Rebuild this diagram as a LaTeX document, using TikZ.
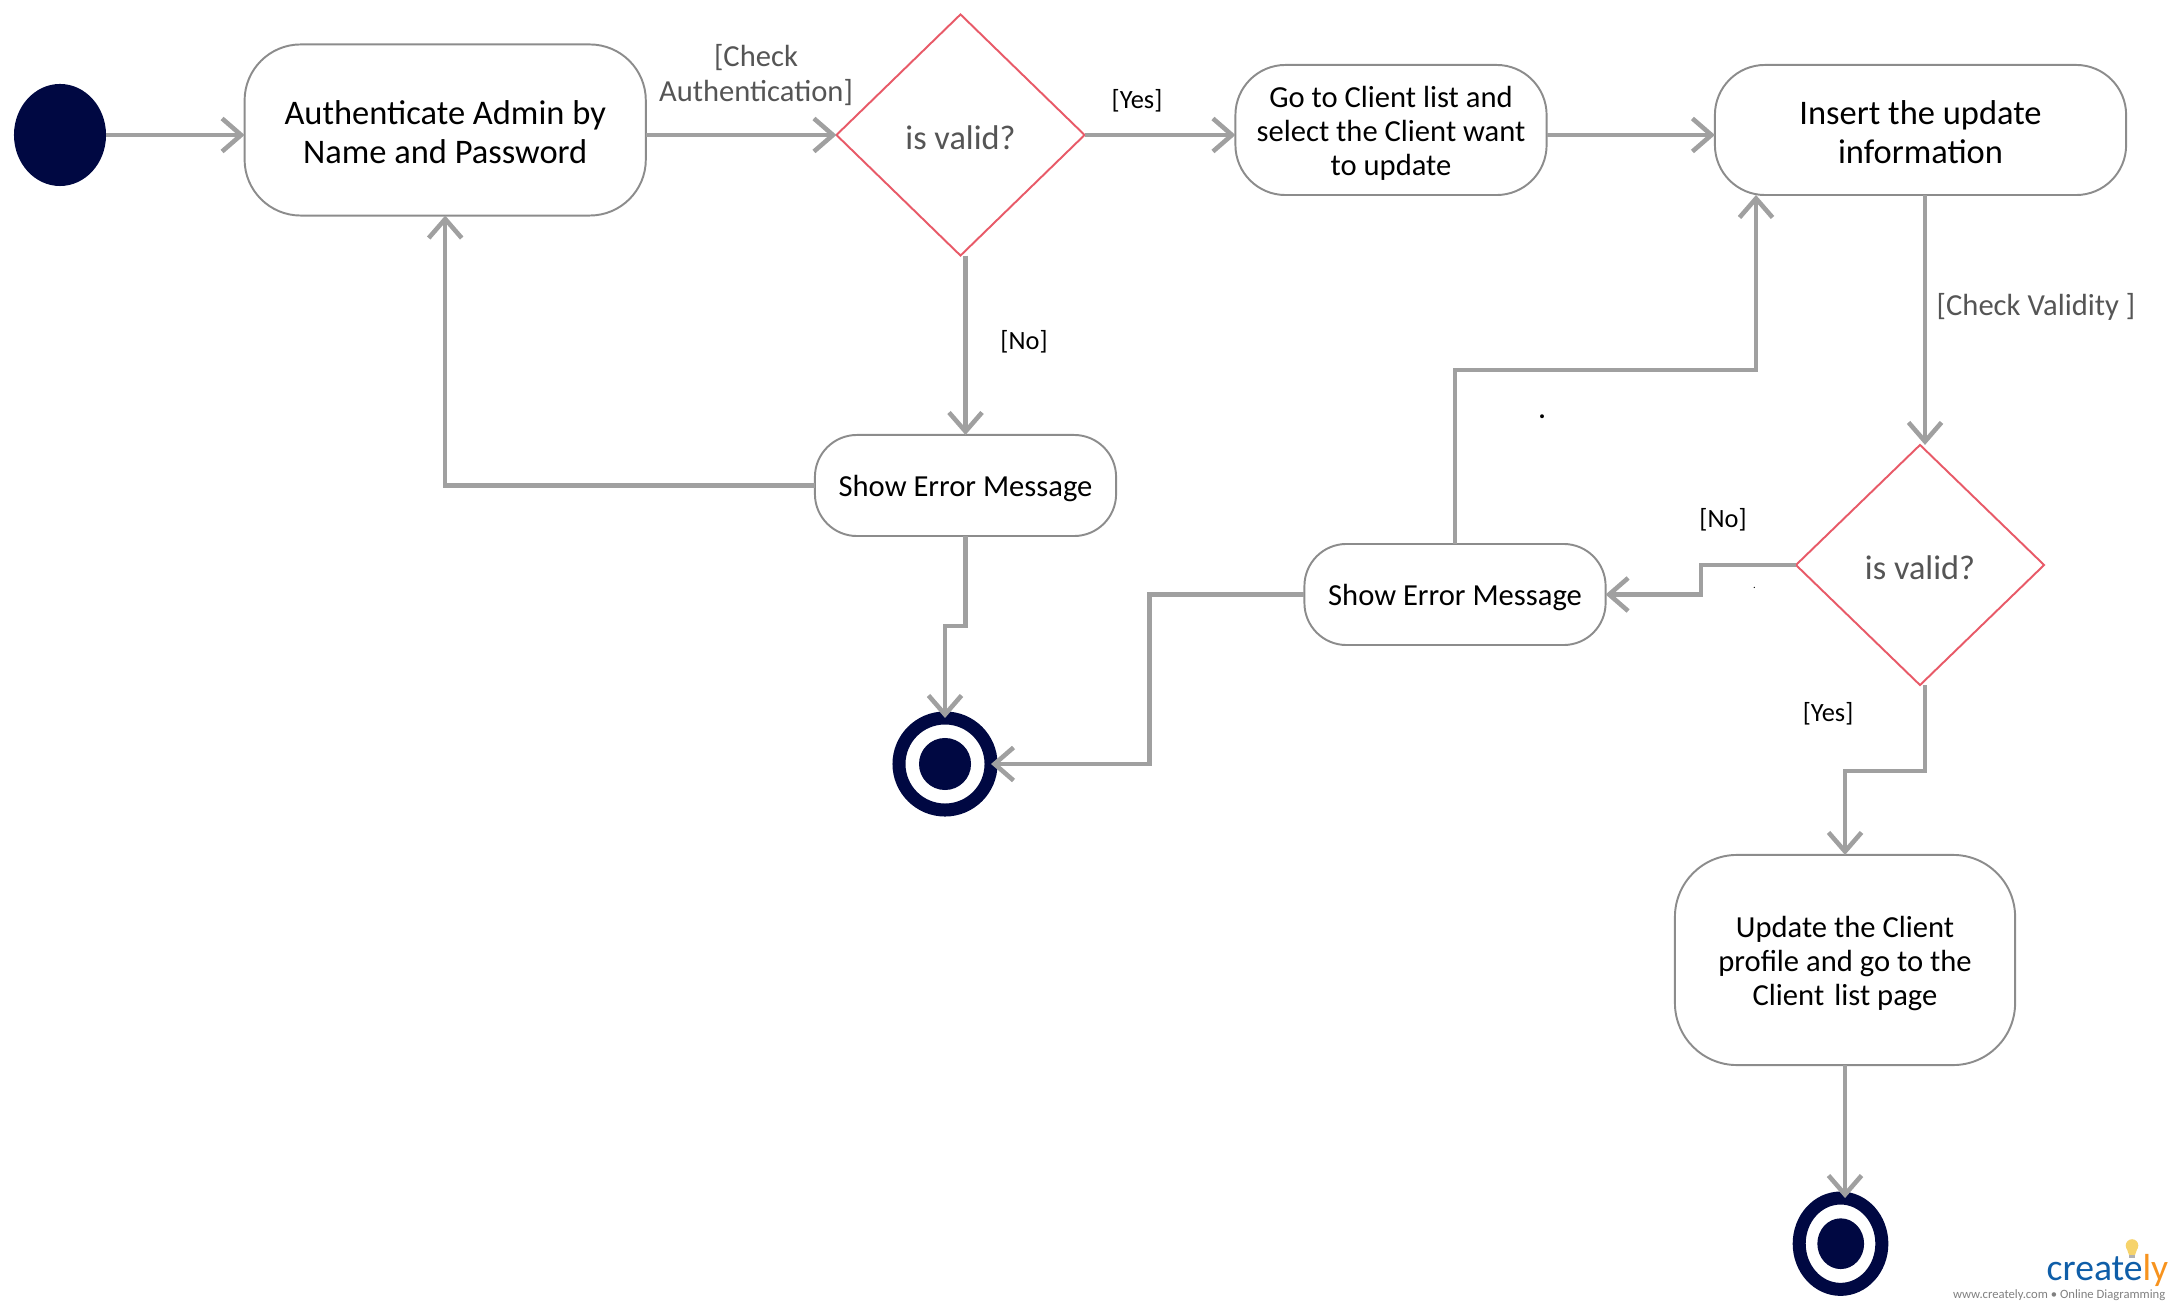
\documentclass[tikz,border=0pt]{standalone}
\usepackage{fontspec}
\setmainfont{Carlito}
\usepackage{xcolor}
\usepackage{tikz}
\usetikzlibrary{arrows.meta,shapes.geometric}

\definecolor{navy}{HTML}{000842}
\definecolor{linegray}{HTML}{A0A0A0}
\definecolor{boxgray}{HTML}{8C8C8C}
\definecolor{decisionred}{HTML}{E85A68}
\definecolor{labelgray}{HTML}{555555}
\definecolor{bulbyellow}{HTML}{F6D36B}

\newcommand{\bigstrut}{\rule{0pt}{8.2pt}}
\newcommand{\midstrut}{\rule{0pt}{7.9pt}}

\begin{document}
\begin{tikzpicture}[x=0.01cm,y=-0.01cm,
    action/.style n args={3}{draw=boxgray,line width=0.55pt,fill=white,rounded corners=#3cm,
        minimum width=#1cm,minimum height=#2cm,inner sep=0pt,outer sep=0pt,align=center},
    decision/.style={diamond,draw=decisionred,line width=0.55pt,fill=white,text=labelgray,
        minimum width=2.48cm,minimum height=2.41cm,inner sep=0pt,outer sep=0pt,font=\fontsize{9.75}{11}\selectfont},
    flow/.style={draw=linegray,line width=1.3pt,-{Straight Barb[length=0.19cm,width=0.33cm,line width=1.3pt]}},
    bigtext/.style={font=\fontsize{9.8}{11.1}\selectfont},
    midtext/.style={font=\fontsize{8.7}{9.7}\selectfont},
    guard/.style={font=\fontsize{7.5}{8}\selectfont,inner sep=0pt},
    greylabel/.style={font=\fontsize{8.7}{9.7}\selectfont,text=labelgray,align=center,inner sep=0pt},
    ring/.style n args={2}{ellipse,draw=navy,line width=3.7pt,fill=white,inner sep=0pt,outer sep=0pt,
        minimum width=#1cm,minimum height=#2cm},
    dot/.style n args={2}{ellipse,fill=navy,inner sep=0pt,outer sep=0pt,minimum width=#1cm,minimum height=#2cm}]

    \useasboundingbox (0,0) rectangle (2180,1310);

    % Start
    \node[dot={0.92}{1.02}] (start) at (60,135) {};

    % Actions
    \node[action={4.01}{1.71}{0.56},bigtext] (authBox) at (445.2,130) {\bigstrut Authenticate Admin by\\Name and Password};
    \node[action={3.11}{1.30}{0.5},midtext] (clientBox) at (1391,130) {\midstrut Go to Client list and\\select the Client want\\to update};
    \node[action={4.11}{1.30}{0.5},bigtext] (insertBox) at (1920.5,130) {\bigstrut Insert the update\\information};
    \node[action={3.01}{1.01}{0.42},midtext] (errorA) at (965.5,485.5) {\midstrut Show Error Message};
    \node[action={3.01}{1.01}{0.42},midtext] (errorB) at (1455,594.5) {\midstrut Show Error Message};
    \node[action={3.40}{2.10}{0.62},midtext] (updateBox) at (1845,960) {\midstrut Update the Client\\profile and go to the\\Client\,\,list page};

    % Decisions
    \node[decision] (validA) at (960.5,135) {\bigstrut is valid?};
    \node[decision,minimum height=2.40cm] (validB) at (1920,565) {\bigstrut is valid?};

    % End points
    \node[ring={0.92}{0.92}] (endA) at (945,764) {};
    \node[dot={0.52}{0.52}] (endAdot) at (945,764) {};
    \node[ring={0.826}{0.913}] (endB) at (1840.5,1243.7) {};
    \node[dot={0.467}{0.507}] (endBdot) at (1840.7,1243.7) {};

    % Connection points away from the middle of a side
    \coordinate (insertIn) at (1756,195);
    \coordinate (insertOut) at (1925,195);
    \coordinate (validBout) at (1925,685);

    % Flows
    \draw[flow] (start.east) -- (authBox.west |- start.east);
    \draw[flow] (authBox.east |- validA.west) -- (validA.west);
    \draw[flow] (validA.east) -- (clientBox.west |- validA.east);
    \draw[flow] (clientBox.east |- validA.east) -- (insertBox.west |- validA.east);
    \draw[flow] (errorA.north |- validA.south) -- (errorA.north);
    \draw[flow] (errorA.west) -| (authBox.south);
    \draw[flow] (errorA.south) -- ++(0,90) -| (endA.north);
    \draw[flow] (insertOut) -- (insertOut |- validB.north);
    \draw[flow] (validB.west) -- ++(-95,0) |- (errorB.east);
    \draw[flow] (errorB.north) -- ++(0,-174) -| (insertIn);
    \draw[flow] (errorB.west) -- ++(-155,0) |- (endA.east);
    \draw[flow] (validBout) -- ++(0,86) -| (updateBox.north);
    \draw[flow] (updateBox.south) -- (endB.north -| updateBox.south);

    % Labels
    \node[greylabel] (checkAuth) at (756,75) {[Check\\Authentication]};
    \node[greylabel] (checkValid) at (2036,306.5) {[Check Validity ]};
    \node[guard] (yesA) at (1137,101) {[Yes]};
    \node[guard] (noA) at (1024,342) {[No]};
    \node[guard] (noB) at (1723,520) {[No]};
    \node[guard] (yesB) at (1828,714) {[Yes]};
    \node[guard,anchor=base] (stopA) at (1542,419) {\textbf{.}};
    \node[guard,font=\fontsize{3}{3}\selectfont,anchor=base] (stopB) at (1754.5,589) {.};

    % Watermark
    \fill[bulbyellow] (2132,1245.5) circle[radius=0.063cm];
    \fill[bulbyellow] (2126.5,1248) -- (2137.5,1248) -- (2135,1255) -- (2129,1255) -- cycle;
    \fill[gray!60] (2129,1255) rectangle (2135,1258);
    \node[anchor=base west,inner sep=0pt,font=\fontsize{10.7}{12}\selectfont,text={rgb,255:red,15;green,94;blue,168}] (logo) at (2046,1280)
        {create\textcolor[HTML]{F7931E}{ly}};
    \node[anchor=base east,inner sep=0pt,font=\fontsize{3.6}{4}\selectfont,text=gray] (logoText) at (2166,1298)
        {www.creately.com • Online Diagramming};

\end{tikzpicture}
\end{document}
